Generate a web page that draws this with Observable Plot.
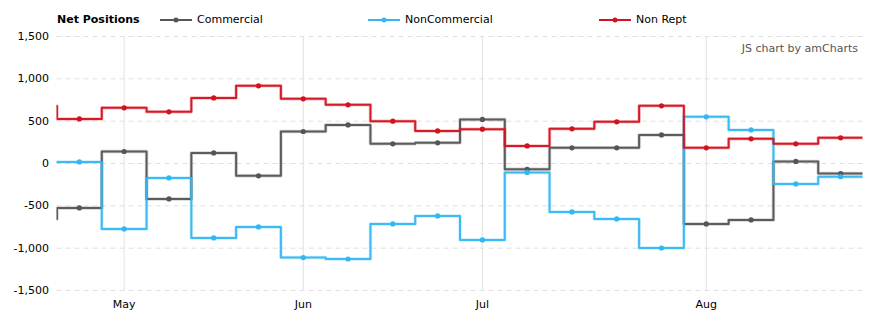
<!DOCTYPE html>
<html><head><meta charset="utf-8">
<script src="https://cdn.jsdelivr.net/npm/d3@7"></script>
<script src="https://cdn.jsdelivr.net/npm/@observablehq/plot@0.6"></script>
<style>
body{margin:0;background:#fff;font-family:"DejaVu Sans",Verdana,sans-serif;}
#wrap{position:relative;width:882px;height:323px;overflow:hidden;}
#legend{position:relative;width:882px;height:30px;font-size:11px;color:#000;}
.li{position:absolute;top:13px;line-height:14px;white-space:nowrap;}
.li svg{position:absolute;left:0;top:2px;}
#credit{position:absolute;right:24px;top:42px;font-size:11px;color:#555;}
</style></head>
<body><div id="wrap"><div id="legend"></div><div id="chart"></div><div id="credit">JS chart by amCharts</div></div>
<script>
// Weekly report dates (category axis, equally spaced)
const dates = ["2019-04-30","2019-05-07","2019-05-14","2019-05-21","2019-05-28",
  "2019-06-04","2019-06-11","2019-06-18","2019-06-25",
  "2019-07-02","2019-07-09","2019-07-16","2019-07-23","2019-07-30",
  "2019-08-06","2019-08-13","2019-08-20","2019-08-27"];
const commercial    = [-525, 142, -418, 125, -145, 378, 456, 232, 244, 520, -69, 185, 185, 338, -714, -667, 24, -118];
const nonCommercial = [19, -773, -170, -879, -749, -1111, -1128, -714, -619, -903, -106, -572, -655, -998, 551, 397, -241, -156];
const nonRept       = [527, 657, 610, 775, 917, 764, 693, 500, 385, 405, 208, 409, 492, 681, 185, 291, 232, 303];
// value of the week before the first date (only its step edge is visible at the left border)
const prevWeek = [-655, null, 679];
const seriesNames = ["Commercial", "NonCommercial", "Non Rept"];
const seriesColors = ["#555555", "#33b7f3", "#d3121f"];
const yTicks = [-1500, -1000, -500, 0, 500, 1000, 1500];

const seriesValues = [commercial, nonCommercial, nonRept];
const parse = d3.utcParse("%Y-%m-%d");
const dd = dates.map(parse);
const monthTicks = dd.map((d, i) => i).filter(i => i > 0 && dd[i].getUTCMonth() !== dd[i - 1].getUTCMonth());
const n = dates.length;

const stepRows = [], pointRows = [];
seriesNames.forEach((s, k) => {
  const v = seriesValues[k];
  if (prevWeek[k] != null) stepRows.push({series: s, x: -1.5, y: prevWeek[k]});
  v.forEach((y, i) => {
    stepRows.push({series: s, x: i - 0.5, y});
    pointRows.push({series: s, x: i, y});
  });
  stepRows.push({series: s, x: n - 0.5, y: v[n - 1]});
});

const fmtY = d => d.toLocaleString("en-US");
const fmtX = i => d3.utcFormat("%b")(dd[i]);

const chart = Plot.plot({
  width: 882, height: 293,
  marginLeft: 56.5, marginRight: 19.5, marginTop: 6, marginBottom: 33,
  style: {fontFamily: "'DejaVu Sans', Verdana, sans-serif", fontSize: "11px", color: "#000", background: "#fff"},
  x: {type: "linear", domain: [-0.5, n - 0.5]},
  y: {domain: [-1500, 1500]},
  color: {domain: seriesNames, range: seriesColors},
  marks: [
    Plot.gridX(monthTicks, {stroke: "#e2e2e2", strokeOpacity: 1}),
    Plot.gridY(yTicks, {stroke: "#e0e0e0", strokeOpacity: 1, strokeDasharray: "5,4"}),
    Plot.axisY({ticks: yTicks, tickSize: 0, tickPadding: 8, tickFormat: fmtY, label: null, fontSize: 11}),
    Plot.axisX({ticks: monthTicks, tickSize: 0, tickPadding: 10, tickFormat: fmtX, label: null, fontSize: 11}),
    Plot.line(stepRows, {x: "x", y: "y", z: "series", stroke: "series", curve: "step-after", strokeWidth: 3.5, strokeOpacity: 0.25, clip: true}),
    Plot.line(stepRows, {x: "x", y: "y", z: "series", stroke: "series", curve: "step-after", strokeWidth: 2, strokeOpacity: 0.95, clip: true}),
    Plot.dot(pointRows, {x: "x", y: "y", fill: "series", r: 2.6, stroke: "none"})
  ]
});
document.getElementById("chart").appendChild(chart);

// legend
const legend = document.getElementById("legend");
const title = document.createElement("div");
title.className = "li"; title.style.left = "57px"; title.style.fontWeight = "bold";
title.textContent = "Net Positions";
legend.appendChild(title);
const legendX = [160, 368, 599];
seriesNames.forEach((s, k) => {
  const el = document.createElement("div");
  el.className = "li"; el.style.left = legendX[k] + "px"; el.style.paddingLeft = "37px";
  el.innerHTML = `<svg width="32" height="10"><line x1="0" x2="32" y1="5" y2="5" stroke="${seriesColors[k]}" stroke-width="2"/><circle cx="16" cy="5" r="2.5" fill="${seriesColors[k]}"/></svg>`;
  el.appendChild(document.createTextNode(s));
  legend.appendChild(el);
});
</script>
</body></html>
